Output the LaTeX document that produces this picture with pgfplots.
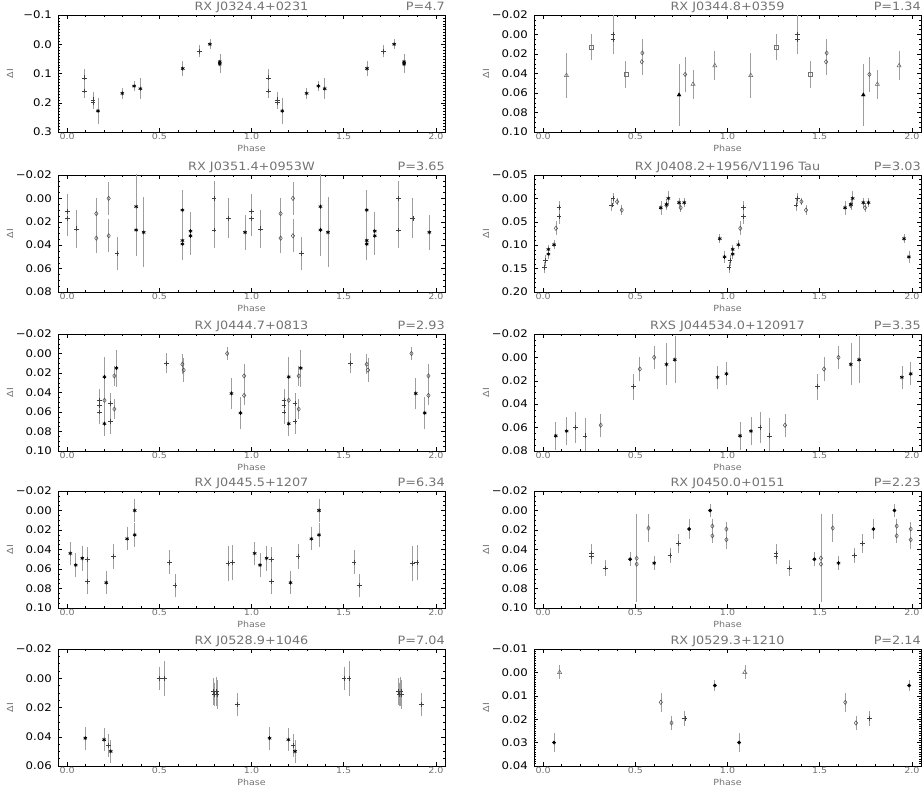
\documentclass[border=0pt]{standalone}
\usepackage{fontspec}
\setmainfont{DejaVu Sans}[FakeStretch=1.12]
\usepackage{pgfplots}
\pgfplotsset{compat=1.18}

\pgfplotsset{
  eb/.style={only marks,
    error bars/y dir=both, error bars/y explicit, error bars/error mark=none,
    error bars/error bar style={black!38, line width=0.6bp}},
  pl/.style={eb, mark=+, mark size=2.4bp, mark options={black!75, line width=0.5bp}},
  as/.style={eb, mark=asterisk, mark size=2bp, mark options={black, line width=0.7bp}},
  dm/.style={eb, mark=diamond, mark size=2.2bp, mark options={black!70, line width=0.5bp}},
  sq/.style={eb, mark=square, mark size=2bp, mark options={black!55, line width=0.5bp}},
  tr/.style={eb, mark=triangle, mark size=2.4bp, mark options={black!60, line width=0.5bp}},
  ftr/.style={eb, mark=triangle*, mark size=2.2bp, mark options={black}},
  fc/.style={eb, mark=*, mark size=1.7bp, mark options={black}},
  panel/.style={
    scale only axis, width=387bp, height=117bp, anchor=north west,
    xmin=-0.05, xmax=2.05, y dir=reverse, scaled y ticks=false,
    xtick={0,0.5,1,1.5,2}, xticklabels={0.0,0.5,1.0,1.5,2.0}, minor x tick num=4,
    tick align=inside, major tick length=4bp, minor tick length=2bp,
    every tick/.style={black, line width=0.4bp},
    axis line style={black, line width=0.7bp},
    x tick label style={font=\fontsize{8.5}{8.5}\selectfont, text=black!55, inner sep=1.5bp},
    y tick label style={font=\fontsize{10.5}{10.5}\selectfont, text=black, inner sep=0pt, xshift=-6bp},
    xlabel={Phase}, ylabel={ΔI},
    xlabel style={at={(axis description cs:0.5,-0.17)}, anchor=base,
      font=\fontsize{8.5}{8.5}\selectfont, text=black!55},
    ylabel style={at={(axis description cs:-0.124,0.5)}, anchor=center,
      font=\fontsize{8.5}{8.5}\selectfont, text=black!55},
    every axis title/.style={at={(axis description cs:0.5,1.036)}, anchor=base,
      inner sep=0pt, font=\fontsize{11.5}{12}\selectfont, text=black!55},
  },
  ttl/.style 2 args={title={#1},
    extra description/.code={\node[anchor=base east, inner sep=0pt,
      font=\fontsize{11.5}{12}\selectfont, text=black!55]
      at (axis description cs:1,1.036) {#2};}},
  y02/.style={ytick={-0.02,0,0.02,0.04,0.06,0.08,0.10}, minor y tick num=3},
}

\begin{document}
\begin{tikzpicture}[x=1bp,y=1bp]
\useasboundingbox (0,0) rectangle (924,790);

% ---------- row 1 ----------
\begin{axis}[panel, at={(58bp,775bp)}, ymin=-0.1, ymax=0.3,
  ytick={-0.1,0,0.1,0.2,0.3}, yticklabels={−0.1,0.0,0.1,0.2,0.3}, minor y tick num=9,
  ttl={RX J0324.4+0231}{P=4.7}]
\addplot[pl] table[y error=e]{
x y e
0.093 0.115 0.03
0.093 0.160 0.025
0.140 0.190 0.025
0.140 0.200 0.02
0.716 0.024 0.02
1.093 0.115 0.03
1.093 0.160 0.025
1.140 0.190 0.025
1.140 0.200 0.02
1.716 0.024 0.02
};
\addplot[as] table[y error=e]{
x y e
0.167 0.228 0.045
0.299 0.168 0.02
0.363 0.143 0.018
0.397 0.152 0.035
0.627 0.083 0.025
0.774 0.000 0.018
0.828 0.060 0.025
0.828 0.068 0.03
1.167 0.228 0.045
1.299 0.168 0.02
1.363 0.143 0.018
1.397 0.152 0.035
1.627 0.083 0.025
1.774 0.000 0.018
1.828 0.060 0.025
1.828 0.068 0.03
};
\end{axis}

\begin{axis}[panel, at={(534bp,775bp)}, ymin=-0.02, ymax=0.10, y02,
  yticklabels={−0.02,0.00,0.02,0.04,0.06,0.08,0.10},
  ttl={RX J0344.8+0359}{P=1.34}]
\addplot[tr] table[y error=e]{
x y e
0.126 0.042 0.023
0.813 0.051 0.015
0.931 0.032 0.015
1.126 0.042 0.023
1.813 0.051 0.015
1.931 0.032 0.015
};
\addplot[sq] table[y error=e]{
x y e
0.263 0.013 0.013
0.448 0.041 0.014
1.263 0.013 0.013
1.448 0.041 0.014
};
\addplot[pl] table[y error=e]{
x y e
0.379 0.000 0.02
0.379 0.005 0.015
1.379 0.000 0.02
1.379 0.005 0.015
};
\addplot[dm] table[y error=e]{
x y e
0.538 0.019 0.014
0.535 0.028 0.014
0.770 0.041 0.018
1.538 0.019 0.014
1.535 0.028 0.014
1.770 0.041 0.018
};
\addplot[ftr] table[y error=e]{
x y e
0.737 0.062 0.032
1.737 0.062 0.032
};
\end{axis}

% ---------- row 2 ----------
\begin{axis}[panel, at={(58bp,615bp)}, ymin=-0.02, ymax=0.08, y02,
  yticklabels={−0.02,0.00,0.02,0.04,0.06,0.08},
  ttl={RX J0351.4+0953W}{P=3.65}]
\addplot[pl] table[y error=e]{
x y e
0.000 0.011 0.015
0.000 0.017 0.015
0.050 0.026 0.016
0.270 0.047 0.014
0.797 0.000 0.015
0.797 0.027 0.015
0.875 0.017 0.017
1.000 0.011 0.015
1.000 0.017 0.015
1.050 0.026 0.016
1.270 0.047 0.014
1.797 0.000 0.015
1.797 0.027 0.015
1.875 0.017 0.017
};
\addplot[dm] table[y error=e]{
x y e
0.158 0.013 0.013
0.158 0.034 0.013
0.225 0.000 0.014
0.225 0.032 0.014
1.158 0.013 0.013
1.158 0.034 0.013
1.225 0.000 0.014
1.225 0.032 0.014
};
\addplot[as] table[y error=e]{
x y e
0.374 0.007 0.028
0.374 0.027 0.022
0.415 0.029 0.03
0.625 0.010 0.017
0.625 0.036 0.014
0.625 0.039 0.014
0.669 0.028 0.016
0.669 0.032 0.016
0.965 0.029 0.015
1.374 0.007 0.028
1.374 0.027 0.022
1.415 0.029 0.03
1.625 0.010 0.017
1.625 0.036 0.014
1.625 0.039 0.014
1.669 0.028 0.016
1.669 0.032 0.016
1.965 0.029 0.015
};
\end{axis}

\begin{axis}[panel, at={(534bp,615bp)}, ymin=-0.05, ymax=0.20,
  ytick={-0.05,0,0.05,0.10,0.15,0.20}, yticklabels={−0.05,0.00,0.05,0.10,0.15,0.20},
  minor y tick num=4, ttl={RX J0408.2+1956/V1196 Tau}{P=3.03}]
\addplot[pl] table[y error=e]{
x y e
0.008 0.147 0.012
0.013 0.133 0.012
0.086 0.039 0.015
0.086 0.020 0.015
0.372 0.014 0.012
0.379 0.000 0.012
1.008 0.147 0.012
1.013 0.133 0.012
1.086 0.039 0.015
1.086 0.020 0.015
1.372 0.014 0.012
1.379 0.000 0.012
};
\addplot[dm] table[y error=e]{
x y e
0.069 0.064 0.015
0.401 0.007 0.008
0.426 0.025 0.01
0.669 0.015 0.01
0.746 0.020 0.01
1.069 0.064 0.015
1.401 0.007 0.008
1.426 0.025 0.01
1.669 0.015 0.01
1.746 0.020 0.01
};
\addplot[as] table[y error=e]{
x y e
0.028 0.119 0.01
0.028 0.109 0.01
0.059 0.099 0.01
0.638 0.020 0.015
0.669 0.013 0.012
0.679 0.000 0.015
0.737 0.009 0.01
0.765 0.009 0.01
0.958 0.086 0.01
0.984 0.125 0.012
1.028 0.119 0.01
1.028 0.109 0.01
1.059 0.099 0.01
1.638 0.020 0.015
1.669 0.013 0.012
1.679 0.000 0.015
1.737 0.009 0.01
1.765 0.009 0.01
1.958 0.086 0.01
1.984 0.125 0.012
};
\end{axis}

% ---------- row 3 ----------
\begin{axis}[panel, at={(58bp,456bp)}, ymin=-0.02, ymax=0.10, y02,
  yticklabels={−0.02,0.00,0.02,0.04,0.06,0.08,0.10},
  ttl={RX J0444.7+0813}{P=2.93}]
\addplot[pl] table[y error=e]{
x y e
0.176 0.048 0.012
0.176 0.053 0.012
0.176 0.060 0.012
0.236 0.051 0.01
0.236 0.070 0.013
0.538 0.010 0.01
1.176 0.048 0.012
1.176 0.053 0.012
1.176 0.060 0.012
1.236 0.051 0.01
1.236 0.070 0.013
1.538 0.010 0.01
};
\addplot[dm] table[y error=e]{
x y e
0.202 0.048 0.015
0.256 0.023 0.01
0.256 0.057 0.01
0.625 0.011 0.01
0.632 0.017 0.012
0.868 0.000 0.007
0.960 0.023 0.012
0.960 0.043 0.01
1.202 0.048 0.015
1.256 0.023 0.01
1.256 0.057 0.01
1.625 0.011 0.01
1.632 0.017 0.012
1.868 0.000 0.007
1.960 0.023 0.012
1.960 0.043 0.01
};
\addplot[as] table[y error=e]{
x y e
0.202 0.024 0.02
0.202 0.072 0.013
0.267 0.015 0.019
0.891 0.041 0.016
0.940 0.061 0.016
1.202 0.024 0.02
1.202 0.072 0.013
1.267 0.015 0.019
1.891 0.041 0.016
1.940 0.061 0.016
};
\end{axis}

\begin{axis}[panel, at={(534bp,456bp)}, ymin=-0.02, ymax=0.08, y02,
  yticklabels={−0.02,0.00,0.02,0.04,0.06,0.08},
  ttl={RXS J044534.0+120917}{P=3.35}]
\addplot[pl] table[y error=e]{
x y e
0.176 0.060 0.013
0.227 0.067 0.015
0.488 0.025 0.011
1.176 0.060 0.013
1.227 0.067 0.015
1.488 0.025 0.011
};
\addplot[dm] table[y error=e]{
x y e
0.312 0.058 0.01
0.524 0.010 0.01
0.602 0.000 0.01
1.312 0.058 0.01
1.524 0.010 0.01
1.602 0.000 0.01
};
\addplot[as] table[y error=e]{
x y e
0.068 0.067 0.012
0.127 0.063 0.012
0.669 0.006 0.018
0.714 0.002 0.02
0.946 0.017 0.01
0.994 0.014 0.01
1.068 0.067 0.012
1.127 0.063 0.012
1.669 0.006 0.018
1.714 0.002 0.02
1.946 0.017 0.01
1.994 0.014 0.01
};
\end{axis}

% ---------- row 4 ----------
\begin{axis}[panel, at={(58bp,299bp)}, ymin=-0.02, ymax=0.10, y02,
  yticklabels={−0.02,0.00,0.02,0.04,0.06,0.08,0.10},
  ttl={RX J0445.5+1207}{P=6.34}]
\addplot[pl] table[y error=e]{
x y e
0.109 0.050 0.013
0.109 0.073 0.013
0.252 0.047 0.013
0.556 0.053 0.012
0.585 0.077 0.012
0.873 0.054 0.018
0.897 0.053 0.018
1.109 0.050 0.013
1.109 0.073 0.013
1.252 0.047 0.013
1.556 0.053 0.012
1.585 0.077 0.012
1.873 0.054 0.018
1.897 0.053 0.018
};
\addplot[as] table[y error=e]{
x y e
0.017 0.044 0.012
0.046 0.056 0.012
0.082 0.049 0.013
0.212 0.074 0.012
0.325 0.029 0.012
0.366 0.000 0.012
0.366 0.025 0.012
1.017 0.044 0.012
1.046 0.056 0.012
1.082 0.049 0.013
1.212 0.074 0.012
1.325 0.029 0.012
1.366 0.000 0.012
1.366 0.025 0.012
};
\end{axis}

\begin{axis}[panel, at={(534bp,299bp)}, ymin=-0.02, ymax=0.10, y02,
  yticklabels={−0.02,0.00,0.02,0.04,0.06,0.08,0.10},
  ttl={RX J0450.0+0151}{P=2.23}]
\addplot[pl] table[y error=e]{
x y e
0.263 0.044 0.01
0.263 0.047 0.008
0.336 0.059 0.008
0.688 0.046 0.008
0.732 0.034 0.01
1.263 0.044 0.01
1.263 0.047 0.008
1.336 0.059 0.008
1.688 0.046 0.008
1.732 0.034 0.01
};
\addplot[dm] table[y error=e]{
x y e
0.507 0.049 0.045
0.507 0.055 0.03
0.571 0.018 0.014
0.918 0.016 0.007
0.918 0.026 0.007
0.994 0.019 0.007
0.994 0.030 0.01
1.507 0.049 0.045
1.507 0.055 0.03
1.571 0.018 0.014
1.918 0.016 0.007
1.918 0.026 0.007
1.994 0.019 0.007
1.994 0.030 0.01
};
\addplot[as] table[y error=e]{
x y e
0.602 0.054 0.007
1.602 0.054 0.007
};
\addplot[fc] table[y error=e]{
x y e
0.471 0.050 0.007
0.792 0.019 0.01
0.906 0.000 0.007
1.471 0.050 0.007
1.792 0.019 0.01
1.906 0.000 0.007
};
\end{axis}

% ---------- row 5 ----------
\begin{axis}[panel, at={(58bp,141bp)}, ymin=-0.02, ymax=0.06,
  ytick={-0.02,0,0.02,0.04,0.06}, minor y tick num=3,
  yticklabels={−0.02,0.00,0.02,0.04,0.06},
  ttl={RX J0528.9+1046}{P=7.04}]
\addplot[pl] table[y error=e]{
x y e
0.225 0.046 0.008
0.502 0.000 0.008
0.529 0.000 0.012
0.795 0.009 0.009
0.800 0.011 0.008
0.810 0.009 0.01
0.813 0.011 0.01
0.922 0.018 0.008
1.225 0.046 0.008
1.502 0.000 0.008
1.529 0.000 0.012
1.795 0.009 0.009
1.800 0.011 0.008
1.810 0.009 0.01
1.813 0.011 0.01
1.922 0.018 0.008
};
\addplot[as] table[y error=e]{
x y e
0.098 0.041 0.008
0.200 0.042 0.008
0.236 0.050 0.008
1.098 0.041 0.008
1.200 0.042 0.008
1.236 0.050 0.008
};
\end{axis}

\begin{axis}[panel, at={(534bp,141bp)}, ymin=-0.01, ymax=0.04,
  ytick={-0.01,0,0.01,0.02,0.03,0.04}, minor y tick num=9,
  yticklabels={−0.01,0.00,0.01,0.02,0.03,0.04},
  ttl={RX J0529.3+1210}{P=2.14}]
\addplot[fc] table[y error=e]{
x y e
0.059 0.0300 0.004
0.931 0.0056 0.0025
1.063 0.0300 0.004
1.986 0.0056 0.0025
};
\addplot[tr] table[y error=e]{
x y e
0.089 0.000 0.003
1.094 0.000 0.003
};
\addplot[dm] table[y error=e]{
x y e
0.638 0.0128 0.004
0.696 0.0216 0.003
1.639 0.0128 0.004
1.697 0.0216 0.003
};
\addplot[pl] table[y error=e]{
x y e
0.768 0.0197 0.003
1.769 0.0197 0.003
};
\end{axis}
\end{tikzpicture}
\end{document}
